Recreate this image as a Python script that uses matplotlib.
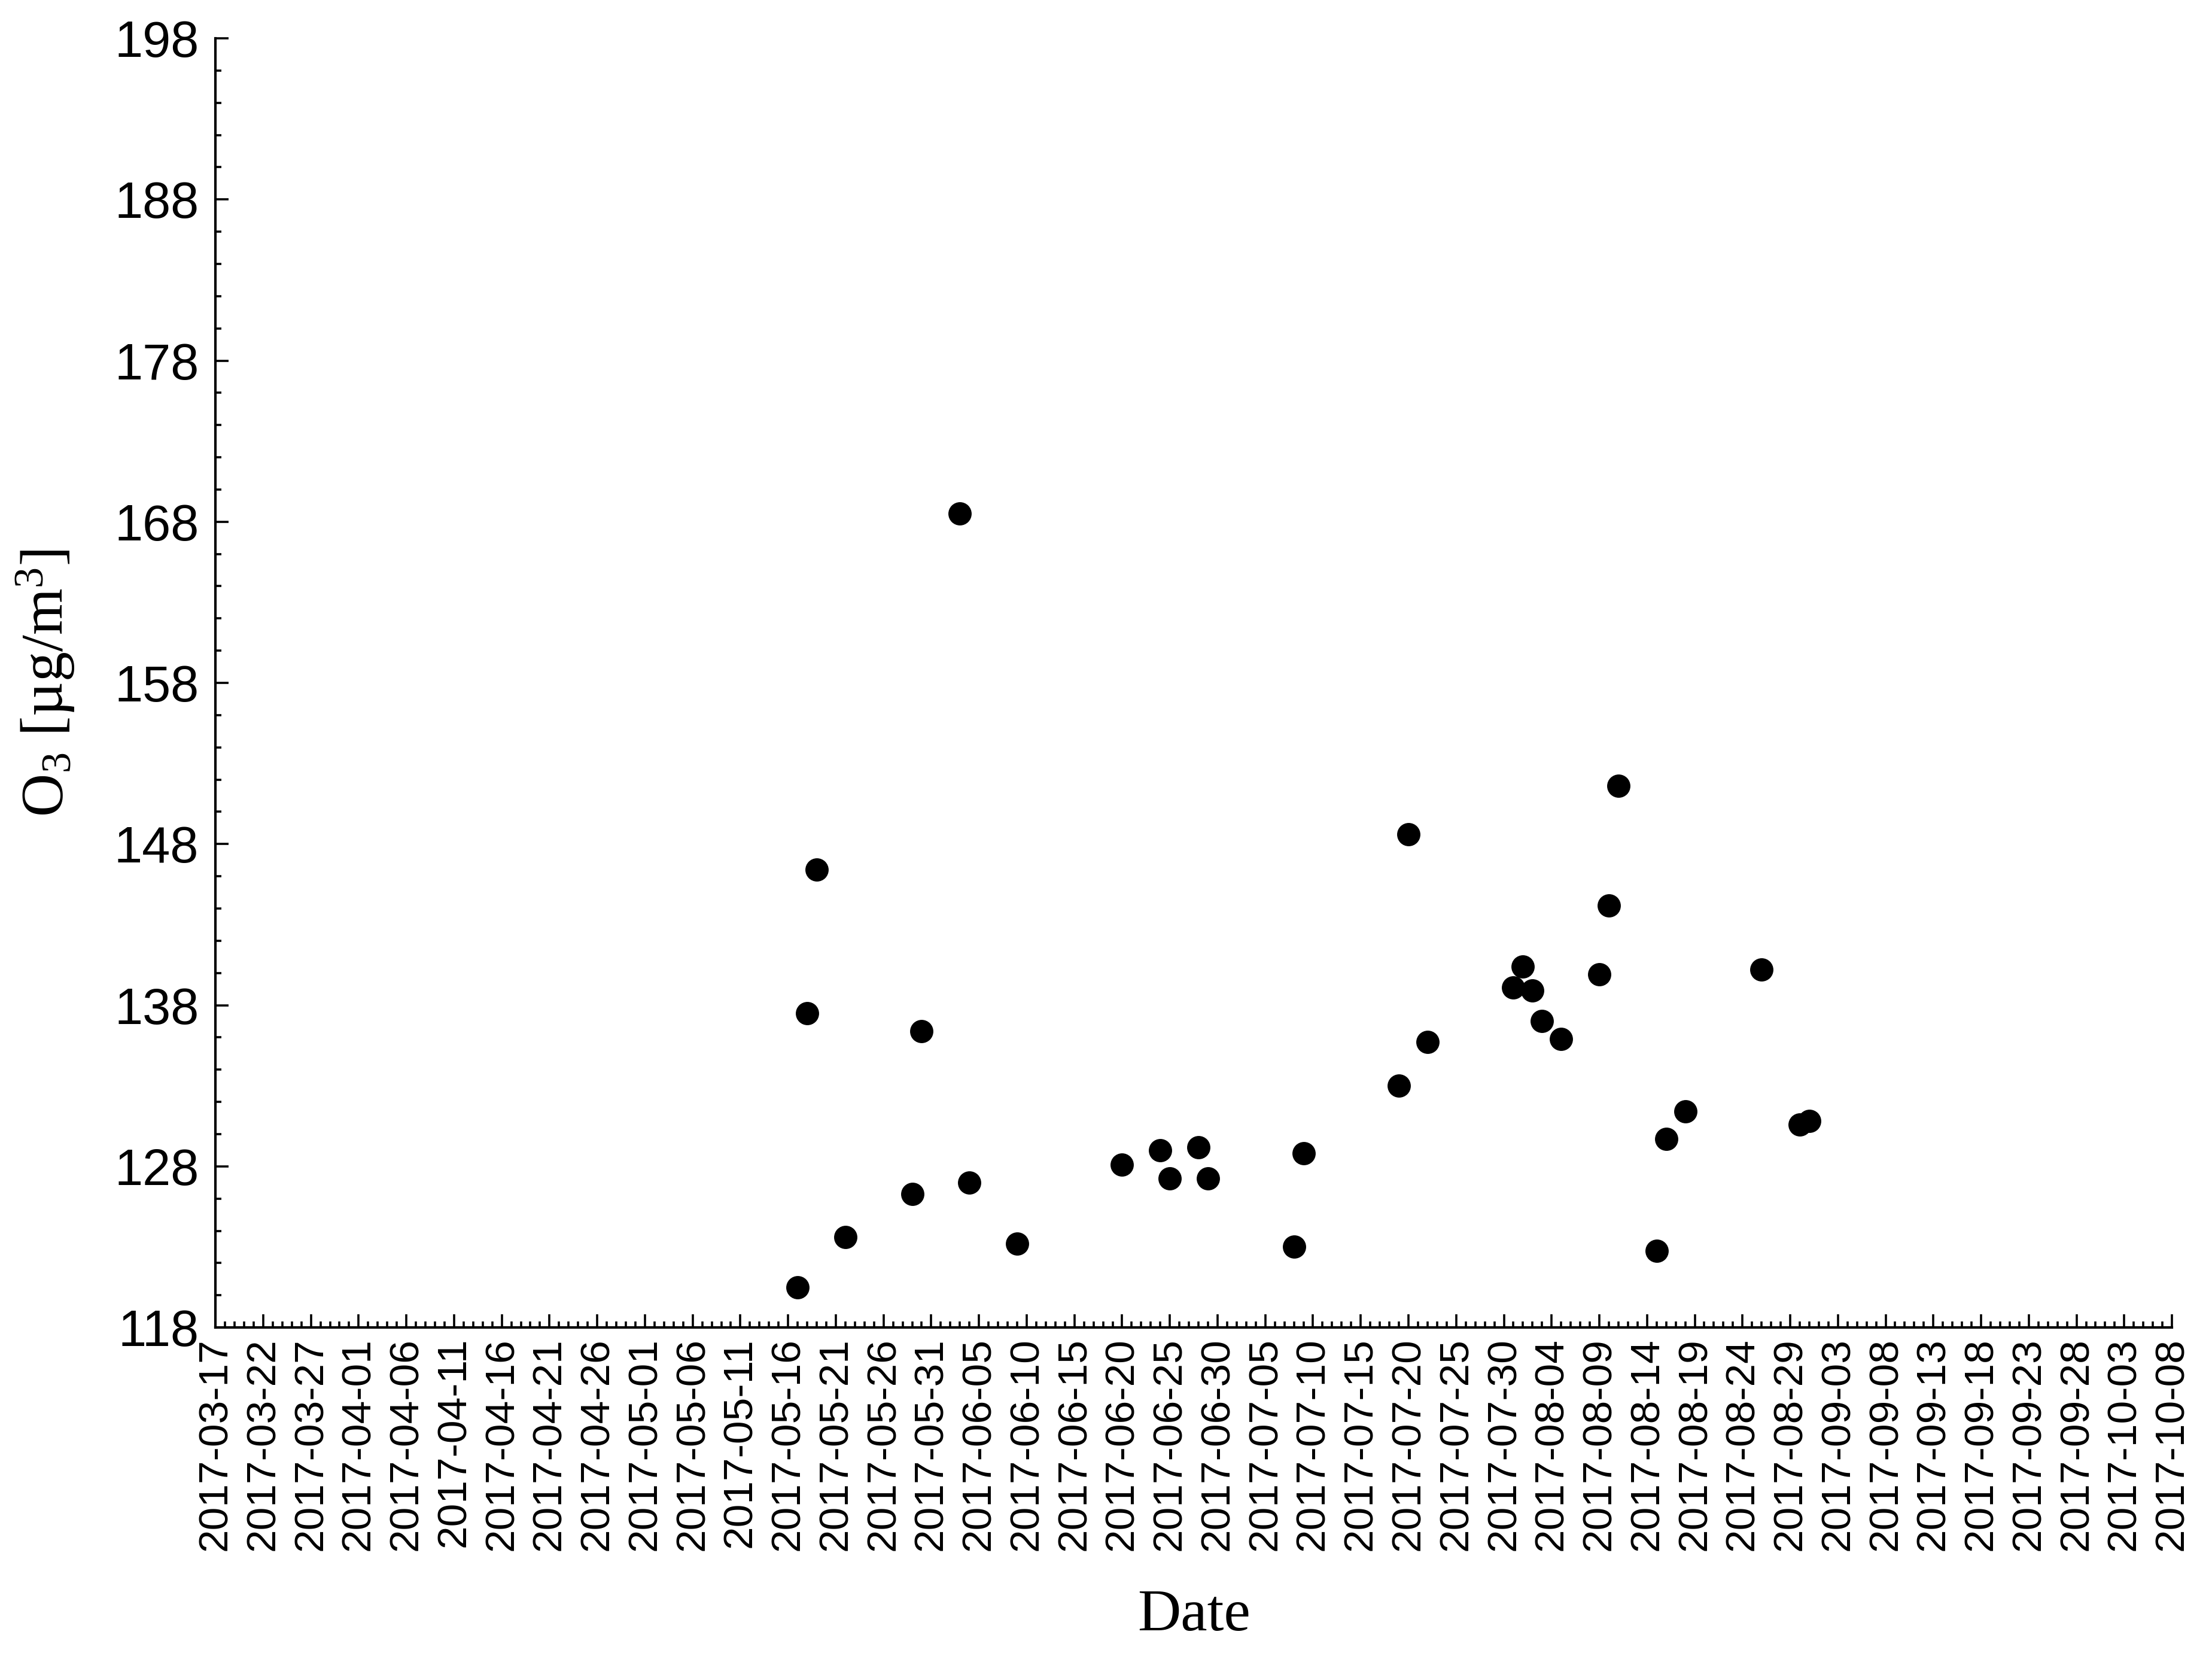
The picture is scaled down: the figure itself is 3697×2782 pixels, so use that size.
import numpy as np
import pandas as pd
import matplotlib as mpl
mpl.use("Agg")
import matplotlib.pyplot as plt
import matplotlib.dates as mdates
import matplotlib.ticker as mtick

mpl.rcParams["mathtext.fontset"] = "custom"
mpl.rcParams["mathtext.rm"] = "Liberation Serif"
mpl.rcParams["mathtext.it"] = "Liberation Serif:italic"

dates = ["2017-05-17", "2017-05-18", "2017-05-19", "2017-05-22", "2017-05-29",
         "2017-05-30", "2017-06-03", "2017-06-04", "2017-06-09", "2017-06-20",
         "2017-06-24", "2017-06-25", "2017-06-28", "2017-06-29", "2017-07-08",
         "2017-07-09", "2017-07-19", "2017-07-20", "2017-07-22", "2017-07-31",
         "2017-08-01", "2017-08-02", "2017-08-03", "2017-08-05", "2017-08-09",
         "2017-08-10", "2017-08-11", "2017-08-15", "2017-08-16", "2017-08-18",
         "2017-08-26", "2017-08-30", "2017-08-31"]
o3 = [120.5, 137.5, 146.4, 123.6, 126.3,
      136.4, 168.5, 127.0, 123.2, 128.1,
      129.0, 127.25, 129.2, 127.25, 123.0,
      128.8, 133.0, 148.6, 135.7, 139.1,
      140.4, 138.9, 137.0, 135.9, 139.9,
      144.2, 151.6, 122.75, 129.7, 131.4,
      140.2, 130.6, 130.8]

x_start, x_end = "2017-03-17", "2017-10-08"
y_ticks = np.arange(118, 199, 10)

fig = plt.figure(figsize=(3697 / 200, 2782 / 200), dpi=200)
ax = fig.add_axes([0.0974, 0.2027, 0.9819 - 0.0974, 0.977 - 0.2027])

ax.plot(pd.to_datetime(dates), o3, "o", color="black", markersize=13, zorder=3)

# axes limits and ticks
ax.set_xlim(pd.Timestamp(x_start), pd.Timestamp(x_end))
ax.set_ylim(118, 198)
major_days = pd.date_range(x_start, x_end, freq="5D")
ax.xaxis.set_major_locator(mtick.FixedLocator(mdates.date2num(major_days)))
ax.xaxis.set_minor_locator(mtick.MultipleLocator(1))
ax.xaxis.set_major_formatter(mdates.DateFormatter("%Y-%m-%d"))
ax.yaxis.set_major_locator(mtick.FixedLocator(y_ticks))
ax.yaxis.set_minor_locator(mtick.MultipleLocator(2))

for s in ("top", "right"):
    ax.spines[s].set_visible(False)
for s in ("left", "bottom"):
    ax.spines[s].set_linewidth(1.5)

ax.tick_params(which="both", direction="in", width=1.3)
ax.tick_params(which="major", length=8)
ax.tick_params(which="minor", length=3.6)
ax.tick_params(axis="x", which="major", pad=6, labelsize=25, labelrotation=90)
ax.tick_params(axis="y", which="major", pad=10, labelsize=30.5)
for lab in ax.get_xticklabels() + ax.get_yticklabels():
    lab.set_fontfamily("Liberation Sans")

ax.set_xlabel("Date", fontsize=36, family="Liberation Serif")
ax.set_ylabel(r"O$_\mathregular{3}$ [µg/m$^\mathregular{3}$]", fontsize=36,
              family="Liberation Serif")
ax.xaxis.set_label_coords(0.5, -0.203)
ax.yaxis.set_label_coords(-0.071, 0.5)

fig.savefig("out.png", dpi=200)
